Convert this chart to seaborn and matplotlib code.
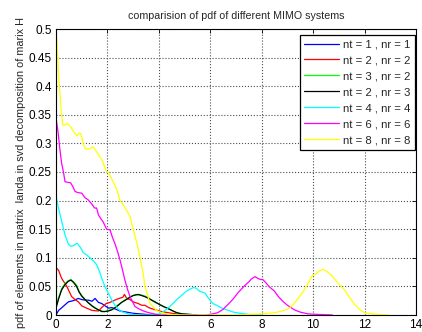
import pandas as pd
import matplotlib
matplotlib.use("Agg")
import matplotlib.pyplot as plt
import seaborn as sns

# series labels and colours (MATLAB default line colours)
labels = ["nt = 1 , nr = 1", "nt = 2 , nr = 2", "nt = 3 , nr = 2", "nt = 2 , nr = 3",
          "nt = 4 , nr = 4", "nt = 6 , nr = 6", "nt = 8 , nr = 8"]
colors = ["#0000ff", "#ff0000", "#00ff00", "#000000", "#00ffff", "#ff00ff", "#ffff00"]

# values
blue_x = [0.0, 0.1, 0.28, 0.48, 0.67, 0.87, 1.0, 1.13, 1.26, 1.4, 1.52, 1.65, 1.78, 2.04, 2.17, 2.49, 2.75, 3.0, 3.5, 4.0]
blue_y = [0.0, 0.008, 0.015, 0.023, 0.025, 0.029, 0.027, 0.026, 0.026, 0.024, 0.029, 0.022, 0.02, 0.012, 0.013, 0.007, 0.005, 0.003, 0.001, 0.0]

red_x = [0.0, 0.1, 0.22, 0.42, 0.61, 0.74, 0.87, 1.0, 1.19, 1.4, 1.65, 1.8, 1.95, 2.1, 2.29, 2.45, 2.6, 2.66, 2.75, 2.88,
         3.0, 3.2, 3.33, 3.46, 3.6, 3.79, 4.1, 4.5, 5.0]
red_y = [0.083, 0.078, 0.064, 0.05, 0.032, 0.027, 0.023, 0.016, 0.012, 0.008, 0.007, 0.014, 0.02, 0.022, 0.026, 0.029, 0.031,
         0.036, 0.029, 0.027, 0.023, 0.02, 0.017, 0.017, 0.013, 0.01, 0.006, 0.003, 0.0]

gk_x = [0.0, 0.1, 0.22, 0.35, 0.48, 0.58, 0.68, 0.8, 0.9, 1.0, 1.13, 1.26, 1.4, 1.52, 1.65, 1.78, 1.9, 2.04, 2.17, 2.3,
        2.42, 2.55, 2.7, 2.88, 3.0, 3.1, 3.2, 3.33, 3.46, 3.6, 3.72, 3.85, 4.0, 4.17, 4.37, 4.55, 4.7, 4.9, 5.2, 5.5]
green_y = [0.014, 0.03, 0.046, 0.055, 0.06, 0.062, 0.058, 0.052, 0.041, 0.034, 0.027, 0.022, 0.016, 0.013, 0.009, 0.007,
           0.006, 0.008, 0.01, 0.013, 0.018, 0.022, 0.027, 0.032, 0.034, 0.036, 0.035, 0.035, 0.033, 0.03, 0.026, 0.022,
           0.019, 0.015, 0.011, 0.007, 0.004, 0.002, 0.001, 0.0]
black_y = [0.012, 0.028, 0.044, 0.053, 0.059, 0.061, 0.057, 0.05, 0.04, 0.033, 0.027, 0.021, 0.016, 0.012, 0.009, 0.006,
           0.006, 0.007, 0.009, 0.013, 0.017, 0.022, 0.026, 0.031, 0.034, 0.035, 0.036, 0.034, 0.032, 0.029, 0.026, 0.023,
           0.019, 0.015, 0.011, 0.007, 0.004, 0.002, 0.001, 0.0]

cyan_x = [0.0, 0.08, 0.22, 0.35, 0.48, 0.58, 0.67, 0.75, 0.83, 0.95, 1.06, 1.2, 1.32, 1.45, 1.58, 1.7, 1.78, 1.9, 2.04,
          2.17, 2.29, 2.42, 2.55, 2.8, 3.2, 3.6, 4.04, 4.3, 4.5, 4.7, 4.9, 5.08, 5.2, 5.34, 5.45, 5.6, 5.7, 5.8, 5.9,
          5.99, 6.1, 6.25, 6.45, 6.64, 6.9, 7.16, 7.5, 8.0]
cyan_y = [0.209, 0.19, 0.164, 0.14, 0.124, 0.12, 0.121, 0.124, 0.125, 0.118, 0.109, 0.105, 0.1, 0.095, 0.088, 0.075,
          0.064, 0.05, 0.038, 0.026, 0.017, 0.01, 0.006, 0.002, 0.0, 0.0, 0.002, 0.01, 0.018, 0.027, 0.035, 0.042, 0.045,
          0.048, 0.047, 0.041, 0.04, 0.038, 0.031, 0.026, 0.02, 0.017, 0.012, 0.009, 0.005, 0.003, 0.001, 0.0]

mag_x = [0.0, 0.08, 0.15, 0.22, 0.29, 0.35, 0.45, 0.57, 0.65, 0.74, 0.85, 1.0, 1.13, 1.26, 1.39, 1.5, 1.58, 1.65, 1.75,
         1.83, 1.97, 2.1, 2.2, 2.29, 2.4, 2.49, 2.58, 2.68, 2.78, 2.88, 3.07, 3.25, 3.46, 3.7, 4.0, 5.0, 5.8, 6.1, 6.29,
         6.5, 6.7, 6.87, 7.1, 7.33, 7.5, 7.6, 7.74, 7.85, 7.95, 8.04, 8.15, 8.3, 8.49, 8.65, 8.82, 9.0, 9.27, 9.5, 9.8,
         10.2, 10.75]
mag_y = [0.345, 0.32, 0.29, 0.265, 0.25, 0.233, 0.232, 0.231, 0.225, 0.216, 0.214, 0.213, 0.205, 0.201, 0.194, 0.187,
         0.187, 0.175, 0.168, 0.163, 0.15, 0.149, 0.135, 0.125, 0.11, 0.096, 0.08, 0.061, 0.045, 0.032, 0.015, 0.01,
         0.006, 0.003, 0.0, 0.0, 0.0, 0.002, 0.004, 0.01, 0.019, 0.027, 0.04, 0.051, 0.058, 0.063, 0.067, 0.064, 0.062,
         0.062, 0.057, 0.049, 0.042, 0.032, 0.024, 0.017, 0.009, 0.005, 0.002, 0.001, 0.0]

yel_x = [0.03, 0.1, 0.18, 0.26, 0.32, 0.45, 0.6, 0.72, 0.82, 0.9, 0.98, 1.05, 1.15, 1.28, 1.44, 1.6, 1.79, 1.97, 2.05,
         2.2, 2.37, 2.49, 2.65, 2.88, 3.0, 3.15, 3.27, 3.38, 3.46, 3.66, 3.9, 4.1, 4.4, 5.0, 6.0, 7.0, 8.0, 8.5, 8.8, 9.0,
         9.2, 9.4, 9.6, 9.8, 9.98, 10.1, 10.2, 10.37, 10.5, 10.7, 10.96, 11.2, 11.4, 11.6, 11.8, 12.0, 12.3, 12.95]
yel_y = [0.485, 0.42, 0.37, 0.332, 0.332, 0.335, 0.327, 0.318, 0.313, 0.318, 0.316, 0.30, 0.29, 0.29, 0.294, 0.284,
         0.271, 0.25, 0.248, 0.235, 0.219, 0.2, 0.19, 0.172, 0.15, 0.125, 0.1, 0.075, 0.05, 0.02, 0.008, 0.004, 0.001,
         0.0, 0.0, 0.0, 0.002, 0.004, 0.007, 0.01, 0.017, 0.028, 0.04, 0.055, 0.07, 0.071, 0.076, 0.08, 0.077, 0.07,
         0.056, 0.045, 0.032, 0.019, 0.01, 0.004, 0.002, 0.0]

xticks = [0, 2, 4, 6, 8, 10, 12, 14]
yticks = [0, 0.05, 0.1, 0.15, 0.2, 0.25, 0.3, 0.35, 0.4, 0.45, 0.5]
ytick_labels = ["0", "0.05", "0.1", "0.15", "0.2", "0.25", "0.3", "0.35", "0.4", "0.45", "0.5"]

series = [(blue_x, blue_y), (red_x, red_y), (gk_x, green_y), (gk_x, black_y),
          (cyan_x, cyan_y), (mag_x, mag_y), (yel_x, yel_y)]
frames = []
for lab, (xs, ys) in zip(labels, series):
    frames.append(pd.DataFrame({"x": xs, "pdf": ys, "system": lab}))
df = pd.concat(frames, ignore_index=True)

sns.set_style("white")
plt.rcParams["font.family"] = ["Liberation Sans", "DejaVu Sans"]

fig = plt.figure(figsize=(4.22, 3.32), dpi=100)
ax = fig.add_axes([56 / 422, 17 / 332, 360 / 422, 286 / 332])

sns.lineplot(data=df, x="x", y="pdf", hue="system", hue_order=labels,
             palette=dict(zip(labels, colors)), estimator=None, sort=False,
             linewidth=0.9, ax=ax)

ax.set_xlim(0, 14)
ax.set_ylim(0, 0.5)
ax.set_xticks(xticks)
ax.set_xticklabels([str(t) for t in xticks], fontsize=8.5)
ax.set_yticks(yticks)
ax.set_yticklabels(ytick_labels, fontsize=8.5)
ax.tick_params(direction="in", length=3, width=0.6, top=True, right=True, pad=3, colors="black")
ax.grid(True, color="0.3", linestyle=":", linewidth=0.8)
for s in ax.spines.values():
    s.set_color("black")
    s.set_linewidth(0.8)

ax.set_title("comparision of pdf of different MIMO systems", fontsize=7.7, pad=7)
ax.set_xlabel("")
ax.set_ylabel("pdf of elements in matrix  landa in svd decomposition of marix H", fontsize=7.8, labelpad=2)

leg = ax.legend(loc="upper right", bbox_to_anchor=(1 - 1 / 360, 1 - 6 / 286), borderaxespad=0,
                fontsize=8.2, frameon=True, fancybox=False, edgecolor="black",
                framealpha=1, handlelength=3.0, labelspacing=0.52, borderpad=0.4,
                handletextpad=0.4)
leg.get_frame().set_linewidth(0.9)

fig.savefig("out.png", dpi=100)
